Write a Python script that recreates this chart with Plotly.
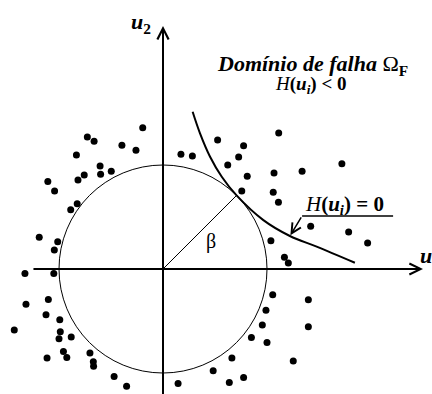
import numpy as np
import plotly.graph_objects as go

# Reliability index (radius of the beta circle) and direction of the design point
beta = 4.0
alpha_deg = 45.0

# Sampled points in standard normal space (u1, u2)
u1_pts = [-0.78, -2.91, -2.65, -1.58, -1.04, -3.33, -2.42, -1.99, -3.03, -2.40,
          -3.27, -4.43, -4.17, 0.69, 1.13, 2.10, 4.45, 3.10, 2.91, 2.49,
          3.24, 4.27, 5.35, 6.88, 3.03, 4.24, 4.44, -3.30, -3.55, -4.76,
          -4.05, -4.18, -5.31, -4.20, -4.41, -5.27, -4.50, -3.97, -5.72, -3.95,
          -4.00, -3.53, -3.83, -3.70, -4.46, -2.81, -2.68, -2.67, -1.88, -1.40,
          0.58, 1.93, 5.68, 7.14, 7.87, 4.15, 4.67, 4.82, 4.22, 5.59,
          3.96, 3.82, 5.59, 3.40, 4.00, 2.65, 5.01, 3.10, 2.55]
u2_pts = [5.43, 5.08, 4.91, 4.76, 4.57, 4.38, 3.96, 3.76, 3.62, 3.64,
          3.42, 3.37, 3.00, 4.41, 4.35, 4.96, 5.23, 4.74, 4.31, 4.00,
          3.57, 3.69, 3.76, 4.05, 3.00, 2.95, 2.57, 2.51, 2.28, 1.22,
          1.05, 0.73, -0.17, -0.17, -1.17, -1.36, -1.76, -1.95, -2.35, -2.41,
          -2.68, -2.62, -3.17, -3.40, -3.42, -3.23, -3.57, -3.74, -4.13, -4.51,
          -4.40, -3.91, 1.64, 1.42, 1.00, 1.09, 0.45, 0.23, -0.99, -1.18,
          -1.59, -2.15, -2.22, -2.63, -2.83, -3.42, -3.54, -4.17, -4.37]

# Limit state surface H(u) = 0
lsf_u1 = [1.14, 1.42, 1.81, 2.26, 2.83, 3.86, 4.88, 5.91, 7.38]
lsf_u2 = [6.05, 5.23, 4.32, 3.55, 2.83, 1.88, 1.27, 0.86, 0.24]

# Axis extents
u1_axis = [-5.04, 10.0]
u2_axis = [-4.95, 9.35]

x_range = [-163 / 26, 269 / 26]
y_range = [-125 / 26, 269 / 26]

serif = "Liberation Serif"

fig = go.Figure()

# Beta circle
fig.add_shape(type="circle", xref="x", yref="y",
              x0=-beta, y0=-beta, x1=beta, y1=beta,
              line=dict(color="black", width=1))

# Radius to the design point
a = np.deg2rad(alpha_deg)
fig.add_trace(go.Scatter(x=[0, beta * np.cos(a)], y=[0, beta * np.sin(a)],
                         mode="lines", line=dict(color="black", width=1),
                         hoverinfo="skip"))

# Limit state curve
fig.add_trace(go.Scatter(x=lsf_u1, y=lsf_u2, mode="lines",
                         line=dict(color="black", width=2, shape="spline", smoothing=1.0),
                         hoverinfo="skip"))

# Sample points
fig.add_trace(go.Scatter(x=u1_pts, y=u2_pts, mode="markers",
                         marker=dict(color="black", size=7)))

# Axes with arrowheads
fig.add_annotation(x=u1_axis[1], y=0, ax=u1_axis[0], ay=0,
                   xref="x", yref="y", axref="x", ayref="y",
                   showarrow=True, arrowhead=5, arrowwidth=2, arrowsize=1.1,
                   arrowcolor="black", text="", standoff=0)
fig.add_annotation(x=0, y=u2_axis[1], ax=0, ay=u2_axis[0],
                   xref="x", yref="y", axref="x", ayref="y",
                   showarrow=True, arrowhead=5, arrowwidth=2, arrowsize=1.1,
                   arrowcolor="black", text="", standoff=0)

# Callout for H(u) = 0
lead_x = [5.35, 8.85]
lead_y = 2.04
fig.add_shape(type="line", xref="x", yref="y",
              x0=lead_x[0], y0=lead_y, x1=lead_x[1], y1=lead_y,
              line=dict(color="black", width=1.5))
fig.add_annotation(x=4.90, y=1.30, ax=lead_x[0], ay=lead_y,
                   xref="x", yref="y", axref="x", ayref="y",
                   showarrow=True, arrowhead=5, arrowwidth=1.5, arrowsize=1.3,
                   arrowcolor="black", text="", standoff=0)

# Labels
fig.add_annotation(x=-0.85, y=9.45, xref="x", yref="y", showarrow=False,
                   text="<b><i>u</i><sub>2</sub></b>",
                   font=dict(family=serif, size=22, color="black"))
fig.add_annotation(x=9.81, y=0.45, xref="x", yref="y", showarrow=False,
                   xanchor="left",
                   text="<b><i>u</i><sub>1</sub></b>",
                   font=dict(family=serif, size=22, color="black"))
fig.add_annotation(x=2.0, y=7.85, xref="x", yref="y", showarrow=False,
                   xanchor="left",
                   text="<b><i>Domínio de falha</i></b> Ω<sub><b>F</b></sub>",
                   font=dict(family=serif, size=22, color="black"))
fig.add_annotation(x=5.69, y=7.08, xref="x", yref="y", showarrow=False,
                   text="<i>H</i><b>(<i>u<sub>i</sub></i>) &lt; 0</b>",
                   font=dict(family=serif, size=19, color="black"))
fig.add_annotation(x=5.38, y=2.48, xref="x", yref="y", showarrow=False,
                   xanchor="left",
                   text="<i>H</i><b>(<i>u<sub>i</sub></i>) = 0</b>",
                   font=dict(family=serif, size=21, color="black"))
fig.add_annotation(x=1.85, y=1.04, xref="x", yref="y", showarrow=False,
                   text="β",
                   font=dict(family=serif, size=20, color="black"))

fig.update_layout(
    width=432, height=394,
    margin=dict(l=0, r=0, t=0, b=0),
    paper_bgcolor="white", plot_bgcolor="white",
    showlegend=False,
    xaxis=dict(range=x_range, visible=False, fixedrange=True),
    yaxis=dict(range=y_range, visible=False, fixedrange=True),
)

fig.write_html("out.html")
